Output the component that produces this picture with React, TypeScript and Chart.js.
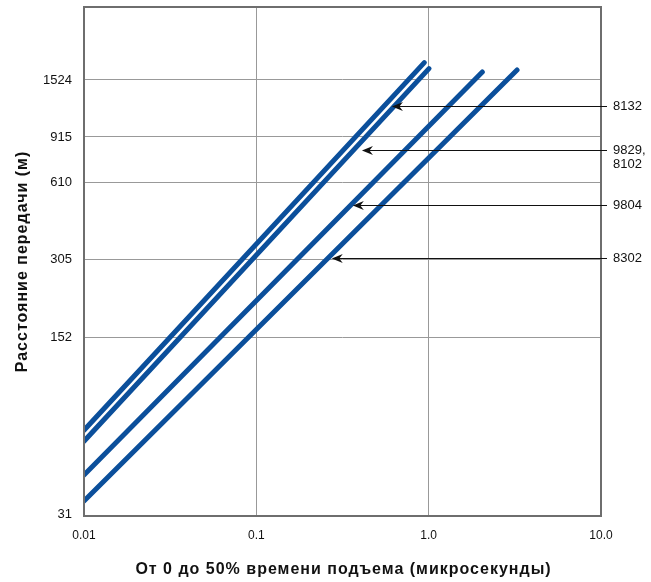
import React, { useEffect, useRef } from "react";
import { Chart, registerables } from "chart.js";

Chart.register(...registerables);

// ---- data ----
const xTickValues = [0.01, 0.1, 1, 10];
const xTickLabels = ["0.01", "0.1", "1.0", "10.0"];
const yTickValues = [31, 152, 305, 610, 915, 1524];
const yTickLabels = ["31", "152", "305", "610", "915", "1524"];

const lineA_x = [0.01, 0.943];
const lineA_y = [66.2, 1780];
const lineB_x = [0.01, 1.004];
const lineB_y = [60.0, 1687];
const lineC_x = [0.01, 2.048];
const lineC_y = [44.3, 1638];
const lineD_x = [0.01, 3.257];
const lineD_y = [35.1, 1667];

const calloutLabels = [["8132"], ["9829,", "8102"], ["9804"], ["8302"]];
const calloutTipX = [0.612, 0.41, 0.363, 0.274];
const calloutY = [1211, 814, 496, 310];

const xTitle = "От 0 до 50% времени подъема (микросекунды)";
const yTitle = "Расстояние передачи (м)";

const LINE_COLOR = "#0b4f9b";
const TICK_FONT = "'Liberation Sans', Arial, sans-serif";
const TITLE_FONT = "'Liberation Sans', Arial, sans-serif";

function toPoints(xs: number[], ys: number[]) {
  return xs.map((x, i) => ({ x, y: ys[i] }));
}

const framePlugin = {
  id: "frameAndCallouts",
  afterDatasetsDraw(chart: any) {
    const { ctx, chartArea, scales } = chart;
    ctx.save();
    // frame
    ctx.strokeStyle = "#6e6e6e";
    ctx.lineWidth = 2;
    ctx.strokeRect(chartArea.left, chartArea.top, chartArea.right - chartArea.left, chartArea.bottom - chartArea.top);

    // callouts
    ctx.strokeStyle = "#111";
    ctx.fillStyle = "#111";
    ctx.lineWidth = 1;
    ctx.font = `13px ${TICK_FONT}`;
    ctx.textBaseline = "middle";
    ctx.textAlign = "left";
    calloutLabels.forEach((lines, i) => {
      const py = Math.round(scales.y.getPixelForValue(calloutY[i])) + 0.5;
      const tx = scales.x.getPixelForValue(calloutTipX[i]);
      const endX = chartArea.right + 6;
      ctx.beginPath();
      ctx.moveTo(endX, py);
      ctx.lineTo(tx + 6, py);
      ctx.stroke();
      // arrowhead
      ctx.beginPath();
      ctx.moveTo(tx, py);
      ctx.lineTo(tx + 11, py - 4.5);
      ctx.lineTo(tx + 7.5, py);
      ctx.lineTo(tx + 11, py + 4.5);
      ctx.closePath();
      ctx.fill();
      lines.forEach((t, j) => {
        ctx.fillText(t, chartArea.right + 12, py + j * 14);
      });
    });

    // axis titles (drawn with slight letter spacing)
    ctx.fillStyle = "#111";
    ctx.font = `bold 16px ${TITLE_FONT}`;
    try { (ctx as any).letterSpacing = "1px"; } catch (e) {}
    ctx.textAlign = "center";
    ctx.textBaseline = "alphabetic";
    const cx = (chartArea.left + chartArea.right) / 2 + 1;
    ctx.fillText(xTitle, cx, 574);
    ctx.save();
    ctx.translate(26.5, (chartArea.top + chartArea.bottom) / 2);
    ctx.rotate(-Math.PI / 2);
    ctx.fillText(yTitle, 0, 0);
    ctx.restore();
    ctx.restore();
  },
};

export default function App() {
  const ref = useRef<HTMLCanvasElement>(null);
  useEffect(() => {
    document.body.style.margin = "0";
    const canvas = ref.current!;
    const ds = (xs: number[], ys: number[]) => ({
      data: toPoints(xs, ys),
      borderColor: LINE_COLOR,
      borderWidth: 5,
      borderCapStyle: "round" as const,
      pointRadius: 0,
      fill: false,
      tension: 0,
    });
    const chart = new Chart(canvas, {
      type: "line",
      data: {
        datasets: [
          ds(lineA_x, lineA_y),
          ds(lineB_x, lineB_y),
          ds(lineC_x, lineC_y),
          ds(lineD_x, lineD_y),
        ],
      },
      options: {
        animation: false,
        responsive: false,
        devicePixelRatio: 1,
        layout: { padding: { left: 0, right: 50, top: 7, bottom: 0 } },
        plugins: { legend: { display: false }, tooltip: { enabled: false } },
        scales: {
          x: {
            type: "logarithmic",
            min: 0.01,
            max: 10,
            afterBuildTicks: (s: any) => {
              s.ticks = xTickValues.map((v) => ({ value: v }));
            },
            afterFit: (s: any) => {
              s.height = 66;
              s.paddingLeft = 0;
              s.paddingRight = 0;
            },
            ticks: {
              autoSkip: false,
              maxRotation: 0,
              padding: 12,
              color: "#111",
              font: { family: TICK_FONT, size: 12 },
              callback: (v: any) => {
                const i = xTickValues.indexOf(Number(v));
                return i >= 0 ? xTickLabels[i] : "";
              },
            },
            grid: { color: "#999", lineWidth: 1, drawTicks: false },
            border: { display: false },
          },
          y: {
            type: "logarithmic",
            min: 30.7,
            max: 2930,
            afterBuildTicks: (s: any) => {
              s.ticks = yTickValues.map((v) => ({ value: v }));
            },
            afterFit: (s: any) => {
              s.width = 84;
              s.paddingTop = 0;
              s.paddingBottom = 0;
            },
            ticks: {
              autoSkip: false,
              padding: 12,
              color: "#111",
              font: { family: TICK_FONT, size: 13 },
              callback: (v: any) => {
                const i = yTickValues.indexOf(Number(v));
                return i >= 0 ? yTickLabels[i] : "";
              },
            },
            grid: {
              color: (c: any) => (c.tick && c.tick.value === yTickValues[0] ? "rgba(0,0,0,0)" : "#999"),
              lineWidth: 1,
              drawTicks: false,
            },
            border: { display: false },
          },
        },
      },
      plugins: [framePlugin],
    });
    return () => chart.destroy();
  }, []);
  return (
    <div style={{ position: "fixed", left: 0, top: 0, width: 651, height: 582, background: "#fff" }}>
      <canvas
        ref={ref}
        width={651}
        height={582}
        style={{ width: 651, height: 582, display: "block" }}
        aria-label={`${yTitle} / ${xTitle}`}
      />
    </div>
  );
}
